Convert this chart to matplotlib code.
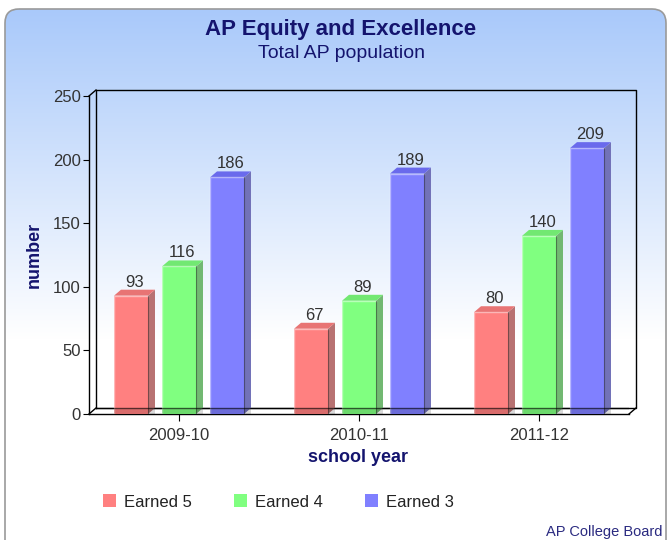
import numpy as np
import matplotlib
matplotlib.use('Agg')
import matplotlib.pyplot as plt
from matplotlib.patches import Polygon, FancyBboxPatch, Rectangle

plt.rcParams['font.family'] = ['Liberation Sans', 'DejaVu Sans']

# data
years = ['2009-10', '2010-11', '2011-12']
series = ['Earned 5', 'Earned 4', 'Earned 3']
earned5 = [93, 67, 80]
earned4 = [116, 89, 140]
earned3 = [186, 189, 209]
values = [earned5, earned4, earned3]
yticks = [0, 50, 100, 150, 200, 250]

# styles
front_c = ['#ff8080', '#80ff80', '#8080ff']
top_c = ['#e87474', '#72e872', '#6a6aec']
side_c = ['#b87272', '#72b872', '#7272b8']
navy = '#14146e'
txt = '#333333'

W, H = 670, 540
fig = plt.figure(figsize=(W / 100, H / 100), dpi=100)

def fx(x):
    return x / W

def fy(y):
    return 1 - y / H

# background panel with gradient
bg = fig.add_axes([0, 0, 1, 1])
bg.set_xlim(0, W)
bg.set_ylim(H, 0)
bg.axis('off')
c0 = np.array([169, 201, 250]) / 255.
t = np.clip((np.arange(H) - 9) / 330., 0, 1)[:, None, None]
grad = c0[None, None, :] + (1 - c0[None, None, :]) * t
img = bg.imshow(grad, extent=[0, W, H, 0], aspect='auto', interpolation='bilinear')
panel = FancyBboxPatch((5, 9), 661, 560, boxstyle='round,pad=0,rounding_size=14',
                       fc='none', ec='#9a9a9a', lw=1.2)
bg.add_patch(panel)
img.set_clip_path(panel)

# main axes = front plane
L, R, T, B = 89, 629, 96, 414
ax = fig.add_axes([fx(L), fy(B), (R - L) / W, (B - T) / H])
ax.set_xlim(-0.5, 2.5)
ax.set_ylim(0, 250)
ax.patch.set_alpha(0)
for s in ['top', 'right']:
    ax.spines[s].set_visible(False)
for s in ['left', 'bottom']:
    ax.spines[s].set_color('black')
    ax.spines[s].set_linewidth(1)

ppx = (R - L) / 3.
ppy = (B - T) / 250.
dx = 7 / ppx
dy = 6 / ppy
bw = 34 / ppx
off = 48 / ppx

# back wall frame
fk = dict(color='black', lw=1, clip_on=False, zorder=1)
ax.plot([-0.5 + dx, 2.5 + dx, 2.5 + dx, -0.5 + dx, -0.5 + dx],
        [dy, dy, 250 + dy, 250 + dy, dy], **fk)
ax.plot([-0.5, -0.5 + dx], [250, 250 + dy], **fk)
ax.plot([-0.5, -0.5 + dx], [0, dy], **fk)
ax.plot([2.5, 2.5 + dx], [0, dy], **fk)

x = np.arange(len(years))
for i, vals in enumerate(values):
    xs = x + (i - 1) * off
    ax.bar(xs, vals, bw, color=front_c[i], lw=0, zorder=3)
    for xc, v in zip(xs, vals):
        x0, x1 = xc - bw / 2, xc + bw / 2
        ax.add_patch(Polygon([(x1, 0), (x1 + dx, dy), (x1 + dx, v + dy), (x1, v)],
                             closed=True, fc=side_c[i], ec='none', zorder=3))
        ax.add_patch(Polygon([(x0, v), (x0 + dx, v + dy), (x1 + dx, v + dy), (x1, v)],
                             closed=True, fc=top_c[i], ec='none', zorder=3))
        ax.plot([x0, x0, x1], [0, v, v], color='white', alpha=0.45, lw=1, zorder=4)
        ax.plot([x1, x1], [0, v], color='black', alpha=0.35, lw=0.8, zorder=4)
        ax.add_patch(Rectangle((x0, 0), bw + dx, dy, fc='black', alpha=0.15,
                               ec='none', zorder=4))
        ax.text(xc + dx / 2, v + dy, str(v), ha='center', va='bottom',
                fontsize=12, color=txt, zorder=5)

ax.plot([-0.5 + dx, 2.5 + dx], [dy, dy], color='black', lw=1, alpha=0.6, zorder=4)

ax.set_yticks(yticks)
ax.set_xticks(x)
ax.set_xticklabels(years)
ax.tick_params(axis='y', direction='out', length=4, pad=2, labelsize=12,
               labelcolor=txt)
ax.tick_params(axis='x', direction='out', length=5, pad=5, labelsize=12,
               labelcolor=txt)

# titles and labels
fig.text(fx(341), fy(29), 'AP Equity and Excellence', ha='center', va='center',
         fontsize=16, fontweight='bold', color=navy)
fig.text(fx(341), fy(54), 'Total AP population', ha='center', va='center',
         fontsize=14, color=navy)
fig.text(fx(34), fy(255), 'number', ha='center', va='center', rotation=90,
         fontsize=13, fontweight='bold', color=navy)
fig.text(fx(358), fy(457), 'school year', ha='center', va='center',
         fontsize=13, fontweight='bold', color=navy)
fig.text(fx(663), fy(532), 'AP College Board', ha='right', va='center',
         fontsize=10.5, color='#2a2a80')

# legend
handles = [Rectangle((0, 0), 1, 1, fc=c, ec='none') for c in front_c]
fig.legend(handles, series, ncol=3, loc='center left',
           bbox_to_anchor=(fx(103), fy(502)), frameon=False, borderpad=0,
           borderaxespad=0, handlelength=0.78, handleheight=0.78,
           handletextpad=0.5, columnspacing=2.5, prop={'size': 12},
           labelcolor='#222222')

fig.savefig('out.png', dpi=100)
